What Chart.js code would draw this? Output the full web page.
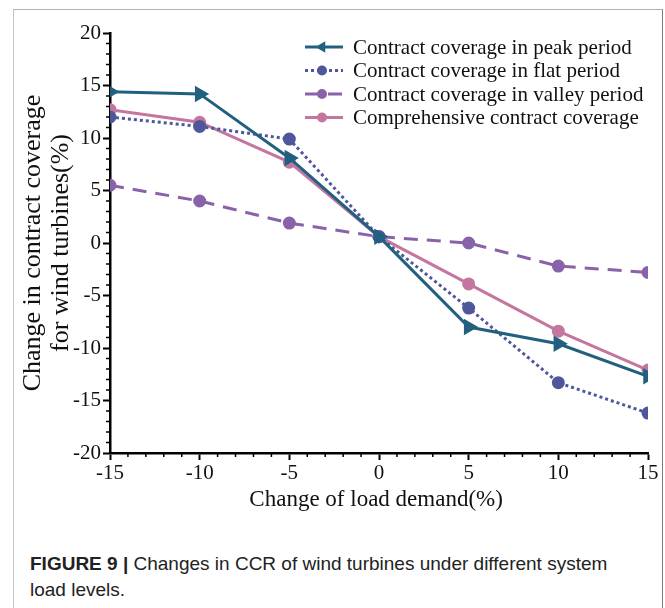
<!DOCTYPE html>
<html>
<head>
<meta charset="utf-8">
<script src="https://cdn.jsdelivr.net/npm/chart.js@4.4.1/dist/chart.umd.min.js"></script>
<style>
  body { margin: 0; background: #fff; }
  #frame { position: absolute; left: 13px; top: 9px; width: 648px; height: 700px;
           border-top: 1.5px solid #b0b0b0; border-left: 1.5px solid #c4c4c4; border-right: 1.5px solid #7a7a7a; }
  #wrap { position: absolute; left: 0; top: 0; width: 665px; height: 520px; }
  #caption { position: absolute; left: 30px; top: 551px; font-family: "Liberation Sans", Arial, sans-serif;
             font-size: 19px; line-height: 26px; color: #222; }
</style>
</head>
<body>
<div id="frame"></div>
<div id="wrap"><canvas id="ccr" width="665" height="520"></canvas></div>
<div id="caption"><b>FIGURE 9 |</b> Changes in CCR of wind turbines under different system<br>load levels.</div>
<script>
// load demand change (%)
var loadChange = [-15, -10, -5, 0, 5, 10, 15];

// change in contract coverage (%)
var peakValues = [14.4, 14.2, 8.1, 0.6, -8.0, -9.6, -12.7];
var flatValues = [12.0, 11.1, 9.9, 0.6, -6.2, -13.3, -16.2];
var valleyValues = [5.5, 4.0, 1.9, 0.6, 0.0, -2.2, -2.8];
var compValues = [12.7, 11.5, 7.7, 0.6, -3.9, -8.4, -12.1];

var seriesNames = [
  'Contract coverage in peak period',
  'Contract coverage in flat period',
  'Contract coverage in valley period',
  'Comprehensive contract coverage'
];

function pts(vals) {
  return loadChange.map((x, i) => ({ x: x, y: vals[i] }));
}

var serif = '"Liberation Serif", "Times New Roman", serif';

// small unlabeled ticks every 1 unit
const minorTicks = {
  id: 'minorTicks',
  afterDraw(chart) {
    const ctx = chart.ctx;
    const xs = chart.scales.x, ys = chart.scales.y;
    ctx.save();
    ctx.strokeStyle = '#000';
    ctx.lineWidth = 1.5;
    ctx.beginPath();
    for (let v = xs.min; v <= xs.max; v++) {
      if (v % 5 === 0) continue;
      const px = xs.getPixelForValue(v);
      ctx.moveTo(px, xs.top);
      ctx.lineTo(px, xs.top + 4);
    }
    for (let v = ys.min; v <= ys.max; v++) {
      if (v % 5 === 0) continue;
      const py = ys.getPixelForValue(v);
      ctx.moveTo(ys.right, py);
      ctx.lineTo(ys.right - 4, py);
    }
    ctx.stroke();
    ctx.restore();
  }
};

// legend drawn inside the plot, top right
const innerLegend = {
  id: 'innerLegend',
  afterDraw(chart) {
    const ctx = chart.ctx;
    const x0 = 305, x1 = 343, tx = 353;
    ctx.save();
    chart.data.datasets.forEach((ds, i) => {
      const y = 47 + i * 23.5;
      ctx.strokeStyle = ds.borderColor;
      ctx.lineWidth = ds.borderWidth;
      ctx.setLineDash(ds.borderDash || []);
      ctx.beginPath();
      ctx.moveTo(x0, y);
      ctx.lineTo(x1, y);
      ctx.stroke();
      ctx.setLineDash([]);
      ctx.fillStyle = ds.pointBackgroundColor;
      ctx.strokeStyle = ds.pointBorderColor;
      ctx.lineWidth = 1;
      Chart.helpers.drawPoint(ctx, {
        pointStyle: ds.pointStyle,
        rotation: i === 0 ? 270 : 0,
        radius: ds.pointRadius
      }, 322, y);
      ctx.fillStyle = '#111';
      ctx.font = '21px ' + serif;
      ctx.textBaseline = 'middle';
      ctx.textAlign = 'left';
      ctx.fillText(ds.label, tx, y + 1);
    });
    ctx.restore();
  }
};

function series(label, vals, color, dash, style, radius, rot) {
  return {
    label: label,
    data: pts(vals),
    borderColor: color,
    borderWidth: 3,
    borderDash: dash,
    pointStyle: style,
    pointRotation: rot,
    pointRadius: radius,
    pointBackgroundColor: color,
    pointBorderColor: color,
    showLine: true,
    fill: false,
    tension: 0
  };
}

const ctx = document.getElementById('ccr').getContext('2d');
const chart = new Chart(ctx, {
  type: 'scatter',
  data: {
    datasets: [
      series(seriesNames[0], peakValues, '#22607f', [], 'triangle', 6.5, 90),
      series(seriesNames[1], flatValues, '#4f579c', [3, 3], 'circle', 5, 0),
      series(seriesNames[2], valleyValues, '#8a62aa', [14, 9], 'circle', 5, 0),
      series(seriesNames[3], compValues, '#c4769f', [], 'circle', 5, 0)
    ]
  },
  options: {
    responsive: false,
    animation: false,
    layout: { padding: { left: 20, right: 17, top: 33, bottom: 4 } },
    plugins: {
      legend: { display: false },
      tooltip: { enabled: false }
    },
    scales: {
      x: {
        type: 'linear',
        min: -15,
        max: 15,
        afterFit: s => { s.height = 63; },
        ticks: { stepSize: 5, padding: 1, color: '#111', font: { family: serif, size: 21 } },
        grid: { drawOnChartArea: false, drawTicks: true, tickLength: 7, tickColor: '#000', tickWidth: 2 },
        border: { display: true, color: '#000', width: 2.5 },
        title: { display: true, text: 'Change of load demand(%) ', color: '#111',
                 font: { family: serif, size: 23, lineHeight: 1.2 }, padding: { top: 0, bottom: 2 } }
      },
      y: {
        type: 'linear',
        min: -20,
        max: 20,
        afterFit: s => { s.width = 90; },
        ticks: { stepSize: 5, padding: 2, color: '#111', font: { family: serif, size: 21 } },
        grid: { drawOnChartArea: false, drawTicks: true, tickLength: 7, tickColor: '#000', tickWidth: 2 },
        border: { display: true, color: '#000', width: 2.5 },
        title: { display: true, text: ['Change in contract coverage', 'for wind turbines(%)'], color: '#111',
                 font: { family: serif, size: 26, lineHeight: 1.05 }, padding: { top: 0, bottom: 0 } }
      }
    }
  },
  plugins: [minorTicks, innerLegend]
});
</script>
</body>
</html>
